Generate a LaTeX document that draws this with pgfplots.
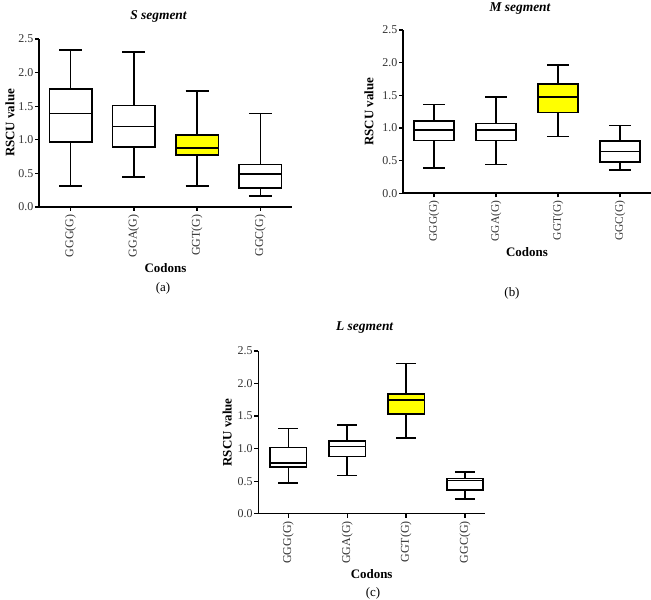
\documentclass[border=0pt]{standalone}
\usepackage{fontspec}
\setmainfont{Liberation Serif}
\usepackage{pgfplots}
\pgfplotsset{compat=1.18}
\usepgfplotslibrary{statistics}

\definecolor{boxyellow}{HTML}{FFFF00}
\definecolor{labgray}{HTML}{333333}

\pgfplotsset{
  segment/.style={
    scale only axis,
    axis lines*=left,
    axis line style={line width=1.6pt,-},
    tick align=outside,
    major tick length=4bp,
    tick style={line width=1.3pt,black},
    ymin=0, ymax=2.5,
    ytick={0,0.5,1,1.5,2,2.5},
    xmin=-0.5, xmax=3.5,
    xtick={0,1,2,3},
    xticklabels={GGG(G),GGA(G),GGT(G),GGC(G)},
    xticklabel style={rotate=90,anchor=east,text=labgray,font=\fontsize{12}{13}\selectfont},
    yticklabel style={/pgf/number format/fixed,/pgf/number format/fixed zerofill,
      /pgf/number format/precision=1,/pgf/number format/assume math mode=true,
      text=labgray,font=\fontsize{12}{13}\selectfont,inner sep=1.5bp},
    ylabel={RSCU value},
    xlabel={Codons},
    label style={font=\fontsize{13}{14}\bfseries},
    ylabel style={at={(axis description cs:0,0.5)},anchor=center,yshift=30bp},
    xlabel style={at={(axis description cs:0.5,0)},anchor=center,yshift=-60bp},
    title style={font=\fontsize{13.5}{15}\bfseries\itshape,at={(axis description cs:0.5,1)},
      anchor=center,yshift=17bp,xshift=-7bp},
    boxplot/draw direction=y,
    clip=false,
  },
  bx/.style={draw=black,line width=1.6pt,fill=white,solid,mark=none},
}

\begin{document}
\begin{tikzpicture}
\useasboundingbox (0bp,0bp) rectangle (651bp,600bp);

% (a) S segment
\begin{axis}[segment, at={(39bp,393bp)}, anchor=south west, width=253bp, height=168bp,
  ylabel style={yshift=-1bp}, xlabel style={yshift=-1bp},
  title={S segment}]
\addplot[bx, boxplot prepared={draw position=0, lower whisker=0.31, lower quartile=0.97, median=1.39, upper quartile=1.76, upper whisker=2.34, box extend=0.67, whisker extend=0.36}] coordinates {};
\addplot[bx, boxplot prepared={draw position=1, lower whisker=0.45, lower quartile=0.89, median=1.20, upper quartile=1.51, upper whisker=2.31, box extend=0.67, whisker extend=0.36}] coordinates {};
\addplot[bx, fill=boxyellow, boxplot prepared={draw position=2, lower whisker=0.31, lower quartile=0.77, median=0.88, upper quartile=1.07, upper whisker=1.73, box extend=0.67, whisker extend=0.36}] coordinates {};
\addplot[bx, boxplot prepared={draw position=3, lower whisker=0.16, lower quartile=0.28, median=0.49, upper quartile=0.63, upper whisker=1.39, box extend=0.67, whisker extend=0.36}] coordinates {};
\end{axis}

% (b) M segment
\begin{axis}[segment, at={(403bp,406.7bp)}, anchor=south west, width=248bp, height=163.3bp,
  xticklabel style={font=\fontsize{11.5}{12}\selectfont},
  ylabel style={yshift=4bp}, xlabel style={yshift=1.5bp},
  title style={yshift=-2bp},
  title={M segment}]
\addplot[bx, boxplot prepared={draw position=0, lower whisker=0.39, lower quartile=0.81, median=0.97, upper quartile=1.11, upper whisker=1.36, box extend=0.65, whisker extend=0.34}] coordinates {};
\addplot[bx, boxplot prepared={draw position=1, lower whisker=0.44, lower quartile=0.81, median=0.97, upper quartile=1.07, upper whisker=1.47, box extend=0.65, whisker extend=0.34}] coordinates {};
\addplot[bx, fill=boxyellow, boxplot prepared={draw position=2, lower whisker=0.87, lower quartile=1.24, median=1.47, upper quartile=1.67, upper whisker=1.96, box extend=0.65, whisker extend=0.34}] coordinates {};
\addplot[bx, boxplot prepared={draw position=3, lower whisker=0.36, lower quartile=0.48, median=0.64, upper quartile=0.80, upper whisker=1.04, box extend=0.65, whisker extend=0.34}] coordinates {};
\end{axis}

% (c) L segment
\begin{axis}[segment, at={(258.3bp,86.3bp)}, anchor=south west, width=226.7bp, height=162.7bp,
  xmin=-0.51, xmax=3.34,
  ylabel style={yshift=1bp},
  title={L segment}]
\addplot[bx, boxplot prepared={draw position=0, lower whisker=0.47, lower quartile=0.72, median=0.78, upper quartile=1.02, upper whisker=1.31, box extend=0.62, whisker extend=0.34}] coordinates {};
\addplot[bx, boxplot prepared={draw position=1, lower whisker=0.59, lower quartile=0.88, median=1.03, upper quartile=1.12, upper whisker=1.36, box extend=0.62, whisker extend=0.34}] coordinates {};
\addplot[bx, fill=boxyellow, boxplot prepared={draw position=2, lower whisker=1.16, lower quartile=1.53, median=1.75, upper quartile=1.84, upper whisker=2.31, box extend=0.62, whisker extend=0.34}] coordinates {};
\addplot[bx, boxplot prepared={draw position=3, lower whisker=0.23, lower quartile=0.36, median=0.51, upper quartile=0.54, upper whisker=0.64, box extend=0.62, whisker extend=0.34}] coordinates {};
\end{axis}

\node[font=\fontsize{13}{14}\selectfont] at (163bp,312bp) {(a)};
\node[font=\fontsize{13}{14}\selectfont] at (512bp,307bp) {(b)};
\node[font=\fontsize{13}{14}\selectfont] at (373bp,7bp) {(c)};
\end{tikzpicture}
\end{document}
